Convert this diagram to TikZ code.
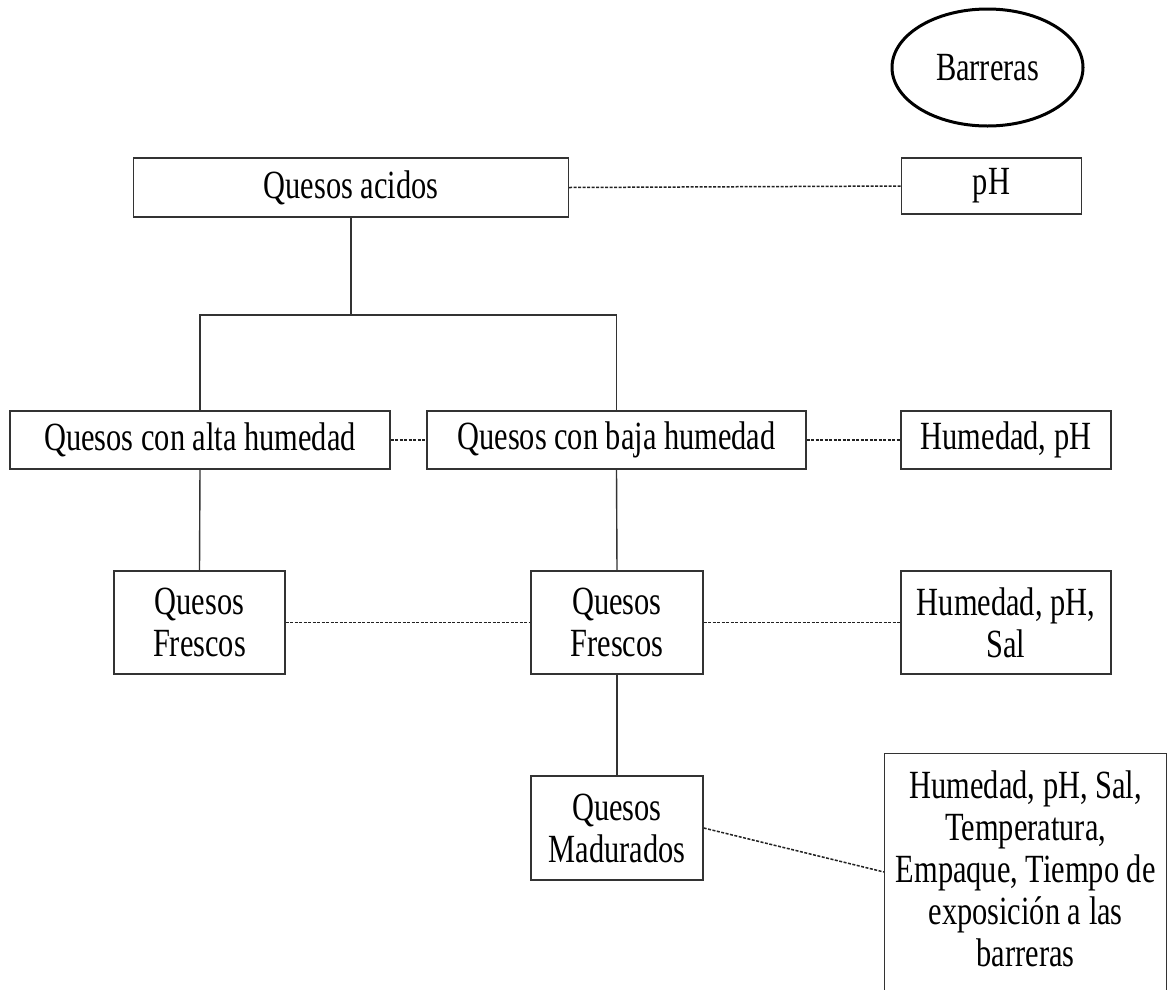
\documentclass[tikz,border=0pt]{standalone}
\usepackage{fontspec}
\setmainfont{Liberation Serif}[FakeStretch=0.76]
\usetikzlibrary{calc,shapes.geometric}
\definecolor{edge}{HTML}{333333}
\definecolor{dashc}{HTML}{222222}
\tikzset{
  box/.style={draw=edge, line width=1.4pt, rectangle, inner sep=0pt, align=center,
    font=\fontsize{40pt}{42pt}\selectfont},
  solidlink/.style={draw=edge, line width=1.4pt},
  dashlink/.style={draw=dashc, line width=1.5pt, dash pattern=on 3pt off 1.5pt},
  oval/.style={draw=black, line width=3pt, ellipse, inner sep=0pt,
    font=\fontsize{40pt}{42pt}\selectfont},
  plaintext/.style={inner sep=0pt, align=center, font=\fontsize{40pt}{42pt}\selectfont}
}
\begin{document}
\begin{tikzpicture}[x=1pt,y=-1pt]
\useasboundingbox[fill=white] (0,0) rectangle (1168,989);

\node[oval, minimum width=191pt, minimum height=117pt] (barreras) at (987.5,67.5) {Barreras};

\node[box, minimum width=435pt, minimum height=59pt] (acidos) at (351,187.5) {Quesos acidos};
\node[box, minimum width=180pt, minimum height=56pt] (ph) at (991.5,186) {pH};

\node[box, minimum width=380pt, minimum height=58pt] (alta) at (200,440) {Quesos con alta humedad};
\node[box, minimum width=379pt, minimum height=58pt] (baja) at (616.5,440) {Quesos con baja humedad};
\node[box, minimum width=210pt, minimum height=58pt] (hph) at (1006,440) {Humedad, pH};

\node[box, minimum width=171pt, minimum height=103pt] (frl) at (199.5,622.5) {Quesos\\Frescos};
\node[box, minimum width=172pt, minimum height=103pt] (frc) at (617,622.5) {Quesos\\Frescos};
\node[box, minimum width=210pt, minimum height=103pt] (hphs) at (1006,622.5) {Humedad, pH,\\Sal};

\node[box, minimum width=172pt, minimum height=104pt] (mad) at (617,828) {Quesos\\Madurados};

\node[box, minimum width=282pt, minimum height=260pt, anchor=north west] (big) at (884,753) {};
\node[plaintext, anchor=north] (bigtext) at ($(big.north)+(0,18)$)
  {Humedad, pH, Sal,\\Temperatura,\\Empaque, Tiempo de\\exposición a las\\barreras};

\coordinate (j) at (351,315);
\draw[solidlink] (acidos.south) -- (j);
\draw[solidlink] (alta.north) |- (j) -| (baja.north);
\draw[solidlink] (alta.south) -- (frl.north);
\draw[solidlink] (baja.south) -- (frc.north);
\draw[solidlink] (frc.south) -- (mad.north);

\draw[dashlink] (acidos.east) -- (ph.west);
\draw[dashlink] (alta.east) -- (baja.west);
\draw[dashlink] (baja.east) -- (hph.west);
\draw[dashlink] (frl.east) -- (frc.west);
\draw[dashlink] (frc.east) -- (hphs.west);
\draw[dashlink] (mad.east) -- ($(big.north west)+(0,119)$);
\end{tikzpicture}
\end{document}
